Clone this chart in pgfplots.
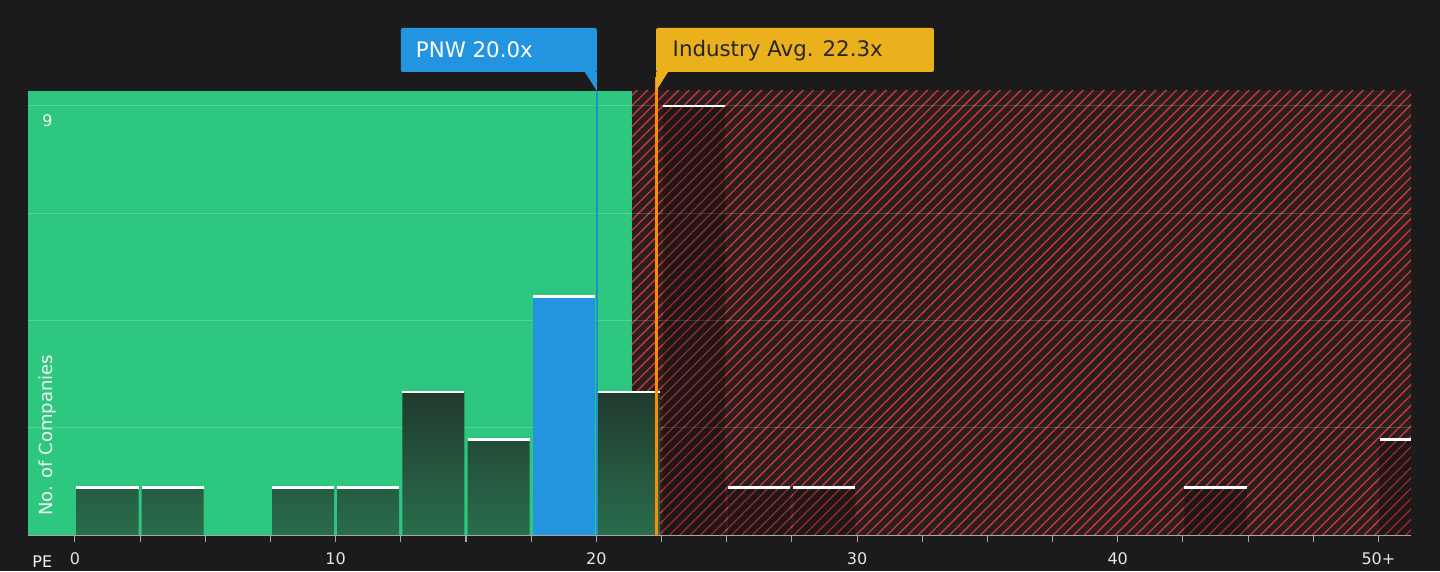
\documentclass[border=0pt]{standalone}
\usepackage{pgfplots}
\pgfplotsset{compat=1.18}
\usepackage{fontspec}
\setmainfont{DejaVu Sans}
\usetikzlibrary{patterns.meta}
\definecolor{bg}{HTML}{1B1B1B}
\definecolor{grn}{HTML}{2EC780}
\definecolor{hatch}{HTML}{C8393C}
\definecolor{hatchbg}{HTML}{2A1E1E}
\definecolor{pnw}{HTML}{2394E0}
\definecolor{ind}{HTML}{EBB11C}
\definecolor{barTop}{HTML}{1F3A2D}
\definecolor{barBot}{HTML}{2A6D4C}
\begin{document}
\begin{tikzpicture}[x=0.75pt,y=0.75pt]
\fill[bg] (0,0) rectangle (1440,571);
\begin{axis}[
  at={(28*0.75pt,36*0.75pt)}, anchor=south west,
  scale only axis, width=1037.25pt, height=333pt,
  xmin=-1.8, xmax=51.25, ymin=0, ymax=9.314,
  clip=false,
  axis line style={draw=none},
  axis x line*=bottom,
  x axis line style={draw=gray!70, line width=0.8pt},
  ytick=\empty,
  xtick={0,2.5,...,50},
  xticklabels={0,,,,10,,,,20,,,,30,,,,40,,,,50+},
  x tick label style={text=white!90!black, font=\fontsize{12}{14}\selectfont, yshift=-5pt},
  major tick length=5pt,
  tick style={draw=gray!70, line width=0.8pt},
  xtick pos=bottom, tick align=outside,
  /pgf/number format/assume math mode=true,
]
% backgrounds
\fill[grn] (axis cs:-1.8,0) rectangle (axis cs:21.35,9.314);
\fill[hatchbg] (axis cs:21.35,0) rectangle (axis cs:51.25,9.314);
\fill[pattern={Lines[angle=45,distance=5.5pt,line width=1pt]}, pattern color=hatch] (axis cs:21.35,0) rectangle (axis cs:51.25,9.314);
% grid
\pgfplotsinvokeforeach{2.25,4.5,6.75,9}{\draw[white, opacity=0.18, line width=0.8pt] (axis cs:-1.8,#1) -- (axis cs:51.25,#1);}
% green-region bars
\addplot[ybar, bar width=2.38, draw=none, shading=axis, top color=barTop, bottom color=barBot]
  coordinates {(1.25,1) (3.75,1) (8.75,1) (11.25,1) (13.75,3) (16.25,2) (21.25,3)};
\addplot[ybar, bar width=2.38, draw=none, fill=pnw] coordinates {(18.75,5)};
% red-region bars
\addplot[ybar, bar width=2.38, draw=none, fill=black, fill opacity=0.25]
  coordinates {(23.75,9) (26.25,1) (28.75,1) (43.75,1)};
\addplot[ybar, bar width=1.22, draw=none, fill=black, fill opacity=0.25]
  coordinates {(50.64,2)};
% white tops
\addplot[draw=none, no markers,
  error bars/.cd, x dir=both, x explicit, error mark=none, error bar style={white, line width=1.8pt}]
  coordinates {(1.25,1) +- (1.19,0) (3.75,1) +- (1.19,0) (8.75,1) +- (1.19,0) (11.25,1) +- (1.19,0)
   (13.75,3) +- (1.19,0) (16.25,2) +- (1.19,0) (18.75,5) +- (1.19,0) (21.25,3) +- (1.19,0)
   (23.75,9) +- (1.19,0) (26.25,1) +- (1.19,0) (28.75,1) +- (1.19,0) (43.75,1) +- (1.19,0)};
\draw[white, line width=1.8pt] (axis cs:50.05,2) -- (axis cs:51.25,2);
% lines
\draw[color=pnw!80!teal, line width=1.5pt] (axis cs:20.02,0) -- (axis cs:20.02,9.314);
\draw[color=orange!90!yellow, line width=2pt] (axis cs:22.3,0) -- (axis cs:22.3,9.6);
% labels boxes
\fill[pnw, rounded corners=1.5pt] (axis cs:12.5,9.713) rectangle (axis cs:20.02,10.636);
\fill[pnw] (axis cs:19.55,9.72) -- (axis cs:20.02,9.72) -- (axis cs:20.02,9.314) -- cycle;
\node[anchor=west, text=white, font=\fontsize{16}{19}\selectfont] at (axis cs:12.9,10.17) {PNW 20.0x};
\fill[ind, rounded corners=1.5pt] (axis cs:22.29,9.713) rectangle (axis cs:32.95,10.636);
\fill[ind] (axis cs:22.29,9.72) -- (axis cs:22.76,9.72) -- (axis cs:22.29,9.314) -- cycle;
\node[anchor=west, text=black!85, font=\fontsize{16}{19}\selectfont] at (axis cs:22.75,10.17) {Industry Avg. 22.3x};
% axis texts
\node[text=white!95!black, font=\fontsize{12}{14}\selectfont] at (axis cs:-1.05,8.7) {9};
\node[rotate=90, anchor=west, text=white!95!black, font=\fontsize{13.5}{16}\selectfont] at (axis cs:-1.05,0.3) {No. of Companies};
\node[text=white!95!black, font=\fontsize{12}{14}\selectfont, anchor=base] at (axis cs:-1.25,-0.68) {PE};
\end{axis}
\end{tikzpicture}
\end{document}
